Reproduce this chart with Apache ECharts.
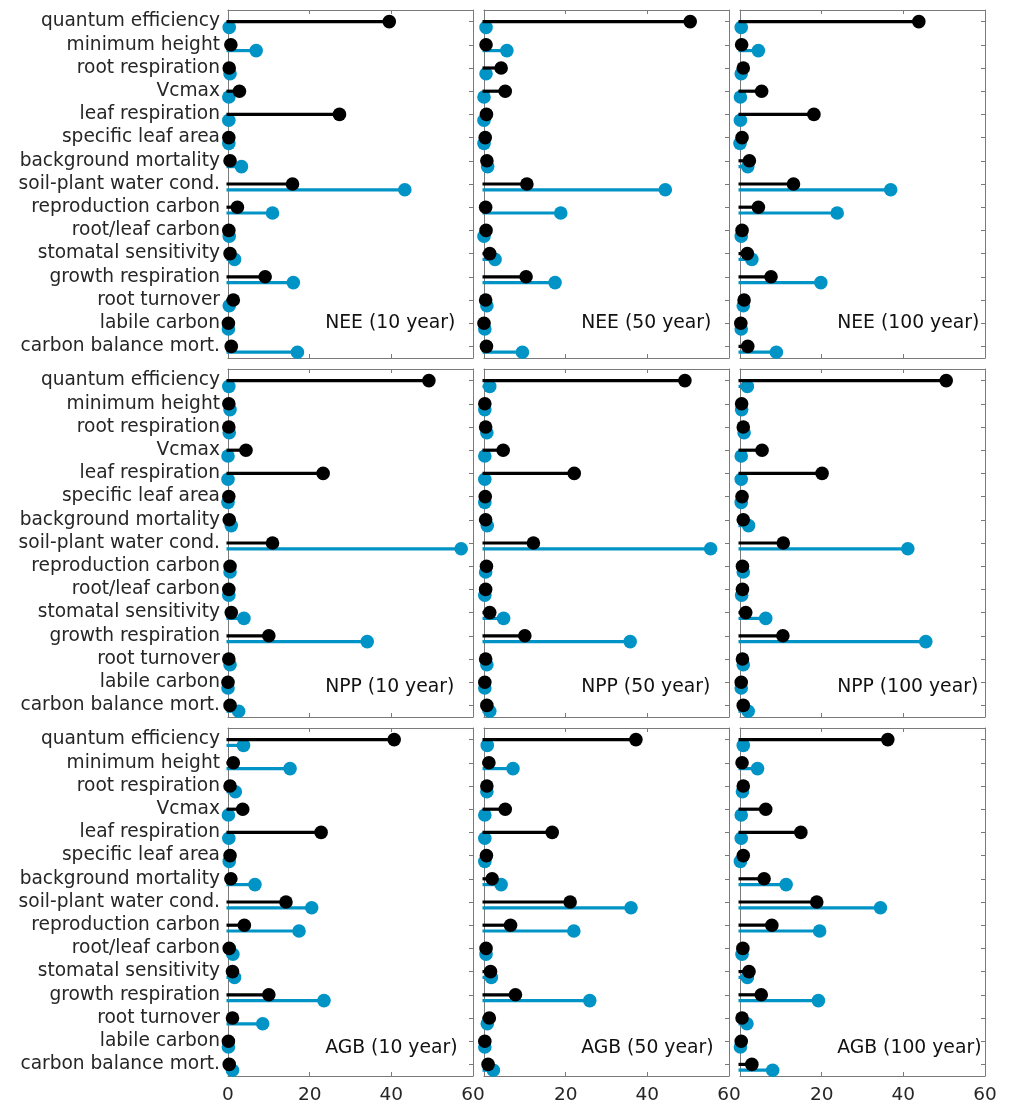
<!DOCTYPE html>
<html>
<head>
<meta charset="utf-8">
<script src="https://cdn.jsdelivr.net/npm/echarts@6/dist/echarts.min.js"></script>
<style>
  html, body { margin: 0; padding: 0; background: #ffffff; }
  #chart { width: 1010px; height: 1107px; }
</style>
</head>
<body>
<div id="chart"></div>
<script>
// Parameter names, top to bottom
const categories = [
  'quantum efficiency', 'minimum height', 'root respiration', 'Vcmax',
  'leaf respiration', 'specific leaf area', 'background mortality',
  'soil-plant water cond.', 'reproduction carbon', 'root/leaf carbon',
  'stomatal sensitivity', 'growth respiration', 'root turnover',
  'labile carbon', 'carbon balance mort.'
];

const metrics = ['NEE', 'NPP', 'AGB'];
const horizons = ['10 year', '50 year', '100 year'];
const xTickValues = [0, 20, 40, 60];

// Sensitivity (black) and uncertainty contribution (blue) per parameter
const neeBlack10  = [39.5, 0.7, 0.3, 2.8, 27.3, 0.2, 0.5, 15.8, 2.3, 0.2, 0.5, 9.1, 1.3, 0.1, 0.8];
const neeBlue10   = [0.3, 6.9, 0.5, 0.2, 0.2, 0.2, 3.3, 43.3, 10.9, 0.3, 1.6, 16.0, 0.3, 0.1, 17.0];
const neeBlack50  = [50.5, 0.5, 4.2, 5.2, 0.6, 0.3, 0.7, 10.5, 0.4, 0.5, 1.4, 10.3, 0.4, 0.0, 0.6];
const neeBlue50   = [0.5, 5.6, 0.5, 0.0, 0.0, 0.0, 0.9, 44.4, 18.8, 0.0, 2.7, 17.4, 0.7, 0.2, 9.4];
const neeBlack100 = [43.8, 0.4, 0.8, 5.3, 18.1, 0.5, 2.3, 13.1, 4.5, 0.5, 1.8, 7.6, 1.0, 0.2, 1.9];
const neeBlue100  = [0.3, 4.5, 0.3, 0.1, 0.1, 0.0, 1.9, 36.9, 23.8, 0.3, 2.9, 19.8, 0.8, 0.3, 8.9];

const nppBlack10  = [49.2, 0.2, 0.2, 4.4, 23.3, 0.2, 0.3, 10.9, 0.5, 0.2, 0.8, 10.0, 0.2, 0.0, 0.5];
const nppBlue10   = [0.2, 0.5, 0.3, 0.0, 0.0, 0.0, 0.8, 57.1, 0.5, 0.2, 3.9, 34.1, 0.5, 0.0, 2.6];
const nppBlack50  = [49.2, 0.2, 0.4, 4.7, 22.1, 0.3, 0.4, 12.1, 0.6, 0.4, 1.4, 10.0, 0.4, 0.2, 0.7];
const nppBlue50   = [1.4, 0.2, 0.7, 0.2, 0.2, 0.2, 0.8, 55.5, 0.4, 0.2, 4.8, 35.8, 0.7, 0.2, 1.4];
const nppBlack100 = [50.5, 0.4, 0.8, 5.4, 20.1, 0.5, 0.8, 10.6, 0.6, 0.6, 1.4, 10.5, 0.6, 0.3, 0.8];
const nppBlue100  = [1.8, 0.4, 1.0, 0.3, 0.3, 0.3, 2.1, 41.1, 0.8, 0.4, 6.3, 45.5, 0.8, 0.3, 2.0];

const agbBlack10  = [40.7, 1.3, 0.5, 3.6, 22.8, 0.5, 0.7, 14.2, 4.0, 0.3, 1.1, 10.0, 1.1, 0.1, 0.3];
const agbBlue10   = [3.8, 15.2, 1.8, 0.1, 0.2, 0.3, 6.6, 20.5, 17.4, 1.2, 1.6, 23.5, 8.5, 0.1, 1.1];
const agbBlack50  = [37.2, 1.2, 0.7, 5.2, 16.7, 0.6, 2.0, 21.1, 6.5, 0.5, 1.6, 7.7, 1.3, 0.2, 1.0];
const agbBlue50   = [0.8, 7.1, 0.7, 0.2, 0.2, 0.2, 4.2, 36.0, 22.0, 0.5, 1.8, 25.9, 0.8, 0.2, 2.3];
const agbBlack100 = [36.2, 0.5, 0.8, 6.3, 14.9, 0.8, 5.9, 18.8, 7.8, 0.7, 2.2, 5.2, 0.5, 0.3, 2.9];
const agbBlue100  = [0.8, 4.3, 0.6, 0.3, 0.3, 0.1, 11.3, 34.4, 19.5, 0.5, 1.8, 19.2, 1.7, 0.1, 8.0];

const panelBlack = [
  [neeBlack10, neeBlack50, neeBlack100],
  [nppBlack10, nppBlack50, nppBlack100],
  [agbBlack10, agbBlack50, agbBlack100]
];
const panelBlue = [
  [neeBlue10, neeBlue50, neeBlue100],
  [nppBlue10, nppBlue50, nppBlue100],
  [agbBlue10, agbBlue50, agbBlue100]
];

// ---- layout & style ----
const FONT = 'DejaVu Sans';
const TEXT = '#262626';
const FRAME = '#7a7a7a';
const BLACK = '#000000';
const BLUE = '#0094c6';
const colLeft = [228, 484, 740];
const rowTop = [10, 369, 728];
const panelW = 245, panelH = 348;
const blueShift = 0.25;          // blue stems sit just below each parameter
const titleY = [14.0, 14.2, 14.3];
const titleX = 23.8;

function lollipopSeries(values, color, xIdx, yIdx, shift) {
  return {
    type: 'custom',
    xAxisIndex: xIdx,
    yAxisIndex: yIdx,
    clip: false,
    silent: true,
    encode: { x: 0, y: 1 },
    data: values.map((v, i) => [v, i + 1 + shift]),
    renderItem: function (params, api) {
      const v = api.value(0), y = api.value(1);
      const p0 = api.coord([0, y]);
      const p1 = api.coord([v, y]);
      return {
        type: 'group',
        children: [
          { type: 'line', shape: { x1: p0[0] - 1.5, y1: p0[1], x2: p1[0], y2: p1[1] },
            style: { stroke: color, lineWidth: 3.2 } },
          { type: 'circle', shape: { cx: p1[0], cy: p1[1], r: 6.8 },
            style: { fill: color } }
        ]
      };
    }
  };
}

const grid = [], xAxis = [], yAxis = [], series = [];

for (let r = 0; r < 3; r++) {
  for (let c = 0; c < 3; c++) {
    const g = r * 3 + c;
    grid.push({ left: colLeft[c], top: rowTop[r], width: panelW, height: panelH, containLabel: false });

    const xBase = {
      type: 'value', gridIndex: g,
      min: xTickValues[0], max: xTickValues[xTickValues.length - 1],
      interval: xTickValues[1] - xTickValues[0],
      splitLine: { show: false },
      axisLine: { show: true, onZero: false, lineStyle: { color: FRAME, width: 1 } },
      axisTick: { show: true, inside: true, length: 4, lineStyle: { color: FRAME } }
    };
    xAxis.push(Object.assign({}, xBase, {
      position: 'bottom',
      axisLabel: {
        show: r === 2, fontFamily: FONT, fontSize: 18.5, color: TEXT, margin: 10,
        formatter: v => (c > 0 && v === 0) ? '' : String(v)
      }
    }));
    xAxis.push(Object.assign({}, xBase, { position: 'top', axisLabel: { show: false } }));

    // numeric axis carrying the stems
    yAxis.push({ type: 'value', gridIndex: g, min: 0.5, max: 15.5, inverse: true, show: false });
    const yCat = {
      type: 'category', gridIndex: g, data: categories, inverse: true,
      axisLine: { show: true, onZero: false, lineStyle: { color: FRAME, width: 1 } },
      axisTick: { show: true, inside: true, alignWithLabel: true, length: 4, lineStyle: { color: FRAME } },
      splitLine: { show: false }
    };
    yAxis.push(Object.assign({}, yCat, {
      position: 'left',
      axisLabel: { show: c === 0, interval: 0, fontFamily: FONT, fontSize: 18.6, color: TEXT, margin: 8 }
    }));
    yAxis.push(Object.assign({}, yCat, { position: 'right', axisLabel: { show: false } }));

    const xi = 2 * g, yi = 3 * g;
    series.push(lollipopSeries(panelBlue[r][c], BLUE, xi, yi, blueShift));
    series.push(lollipopSeries(panelBlack[r][c], BLACK, xi, yi, 0));

    const title = metrics[r] + ' (' + horizons[c] + ')';
    series.push({
      type: 'custom', xAxisIndex: xi, yAxisIndex: yi, clip: false, silent: true,
      encode: { x: 0, y: 1 },
      data: [[titleX, titleY[r]]],
      renderItem: function (params, api) {
        const p = api.coord([api.value(0), api.value(1)]);
        return {
          type: 'text', x: p[0], y: p[1],
          style: { text: title, fontFamily: FONT, fontSize: 18.8, fill: '#111111',
                   align: 'left', verticalAlign: 'middle' }
        };
      }
    });
  }
}

const chart = echarts.init(document.getElementById('chart'), null, { renderer: 'canvas' });
chart.setOption({
  animation: false,
  backgroundColor: '#ffffff',
  grid: grid,
  xAxis: xAxis,
  yAxis: yAxis,
  series: series
});
</script>
</body>
</html>
